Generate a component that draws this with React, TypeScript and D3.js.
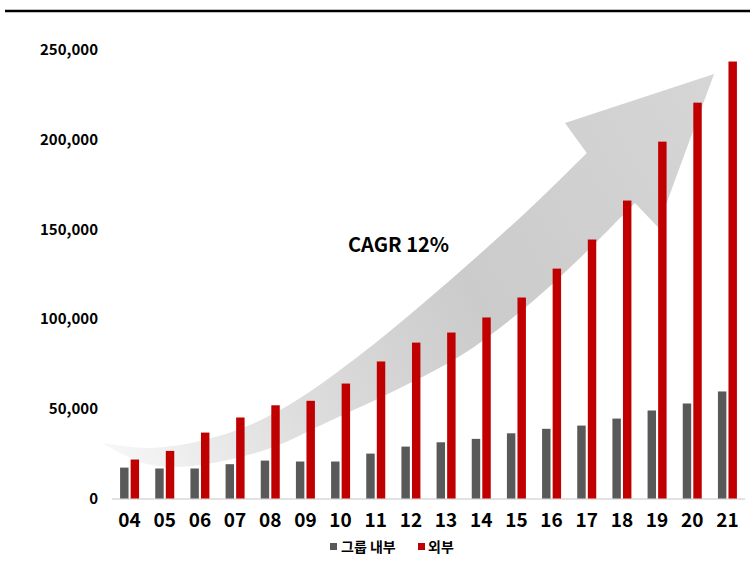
import React from "react";
import * as d3 from "d3";

// Years shown on the category axis
const years = ["04", "05", "06", "07", "08", "09", "10", "11", "12", "13", "14", "15", "16", "17", "18", "19", "20", "21"];
// Series values
const internalValues = [17200, 16700, 16700, 19100, 21100, 20600, 20600, 25000, 28900, 31300, 33200, 36300, 38800, 40600, 44500, 49000, 52900, 59600];
const externalValues = [21700, 26500, 36700, 45100, 51900, 54400, 64000, 76300, 86800, 92400, 100800, 111900, 128000, 144200, 165900, 198700, 220400, 243300];
const seriesNames = ["그룹 내부", "외부"];
const yTicks = [0, 50000, 100000, 150000, 200000, 250000];
const annotation = "CAGR 12%";

// Growth arrow outline in data space: [category position, value]
const arrowUpper: [number, number][] = [
  [-0.78, 30900], [0.58, 28100], [2.0, 32000], [3.42, 40900], [4.85, 56000],
  [6.55, 79900], [8.26, 107200], [9.96, 136100], [11.67, 166800], [13.0, 192400],
];
const arrowHead: [number, number][] = [
  [12.38, 209100], [16.62, 236400], [15.02, 151200], [14.37, 164500],
];
const arrowLower: [number, number][] = [
  [14.37, 164500], [12.81, 133900], [11.24, 106100], [9.4, 79300], [7.4, 58700],
  [5.5, 41400], [4.08, 28600], [2.66, 20900], [1.23, 17500], [0.3, 20300], [-0.78, 30900],
];

const W = 750;
const H = 563;
const FONT = "'Noto Sans CJK KR', 'Noto Sans', sans-serif";
const GRAY = "#595959";
const RED = "#c00000";

export default function App() {
  const x = d3.scaleBand<string>().domain(years).range([112, 745]).paddingInner(0).paddingOuter(0);
  const bw = x.bandwidth();
  const xs = d3.scaleBand<number>().domain([0, 1]).range([bw / 2 - 9.5, bw / 2 + 9.5]).paddingInner(0.2);
  const y = d3.scaleLinear().domain([0, 250000]).range([498.5, 49.5]);

  const px = (i: number) => 112 + (i + 0.5) * bw;
  const curve = d3.line<[number, number]>().x((d) => px(d[0])).y((d) => y(d[1])).curve(d3.curveCatmullRom.alpha(0.5));
  const upperPath = curve(arrowUpper) || "";
  const lowerPath = curve(arrowLower) || "";
  const headPts = arrowHead.map((d) => `L${px(d[0])},${y(d[1])}`).join("");
  const arrowPath = upperPath + headPts + "L" + lowerPath.slice(1) + "Z";

  const fmt = d3.format(",");

  return (
    <svg width={W} height={H} style={{ position: "absolute", left: 0, top: 0, background: "#fff" }} fontFamily={FONT}>
      <defs>
        <linearGradient id="arrowFill" gradientUnits="userSpaceOnUse" x1={100} y1={440} x2={720} y2={80}>
          <stop offset="0" stopColor="#f7f7f7" />
          <stop offset="0.25" stopColor="#dedede" />
          <stop offset="0.55" stopColor="#cbcbcb" />
          <stop offset="1" stopColor="#d6d6d6" />
        </linearGradient>
      </defs>

      <line x1={5} x2={750} y1={11} y2={11} stroke="#000" strokeWidth={2.5} />

      <path d={arrowPath} fill="url(#arrowFill)" />

      {yTicks.map((t) => (
        <text key={t} x={98} y={y(t)} dy="0.36em" textAnchor="end" fontSize={15} fontWeight={700} fill="#000">
          {fmt(t)}
        </text>
      ))}

      <line x1={112} x2={745} y1={y(0) + 0.5} y2={y(0) + 0.5} stroke="#d9d9d9" strokeWidth={1.5} />

      {years.map((yr, i) => (
        <g key={yr} transform={`translate(${x(yr)},0)`}>
          <rect x={xs(0)} y={y(internalValues[i])} width={xs.bandwidth()} height={y(0) - y(internalValues[i])} fill={GRAY} />
          <rect x={xs(1)} y={y(externalValues[i])} width={xs.bandwidth()} height={y(0) - y(externalValues[i])} fill={RED} />
          <text x={bw / 2} y={527} textAnchor="middle" fontSize={19} fontWeight={700} fill="#000">
            {yr}
          </text>
        </g>
      ))}

      <text x={348} y={252} fontSize={20} fontWeight={700} fill="#000">
        {annotation}
      </text>

      <g fontSize={14} fontWeight={700} fill="#000">
        <rect x={330} y={543} width={7} height={7} fill={GRAY} />
        <text x={341} y={551.5}>{seriesNames[0]}</text>
        <rect x={418} y={543} width={7} height={7} fill={RED} />
        <text x={428} y={551.5}>{seriesNames[1]}</text>
      </g>
    </svg>
  );
}
